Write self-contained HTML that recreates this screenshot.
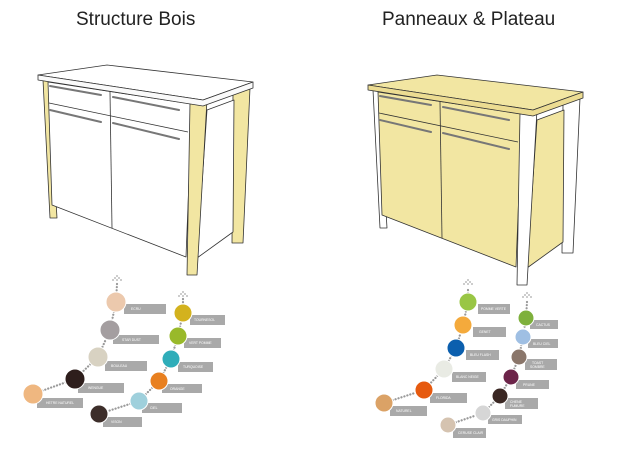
<!DOCTYPE html>
<html><head><meta charset="utf-8"><style>
html,body{margin:0;padding:0;background:#fff;}
svg{display:block;font-family:"Liberation Sans",sans-serif;}
.lb{fill:#a9a9a9;}
.lt{fill:#fff;font-size:3.4px;}
.dot{stroke:#999;stroke-width:2.2;stroke-dasharray:0.1 3;stroke-linecap:round;fill:none;}
.ar{fill:#aaa;}
</style></head><body>
<svg width="617" height="449" viewBox="0 0 617 449" xmlns="http://www.w3.org/2000/svg">
<text x="76" y="25" font-size="19" fill="#222">Structure Bois</text>
<text x="382" y="25" font-size="19" fill="#222">Panneaux &amp; Plateau</text>

<!-- Left cabinet -->
<g stroke="#333" stroke-width="0.8" stroke-linejoin="round">
  <polygon points="233,92 250,88 243,243 232,243" fill="#f2e6a2"/>
  <polygon points="207,110 234,100 233,232 197,258" fill="#fff"/>
  <polygon points="43,80 49,80 57,218 50,218" fill="#f2e6a2"/>
  <polygon points="48,82 192,104 186,257 52,205" fill="#fff"/>
  <line x1="110" y1="92" x2="112" y2="228"/>
  <line x1="49" y1="103" x2="188" y2="132"/>
  <polygon points="190,103 207,100 197,275 187,275" fill="#f2e6a2"/>
  <polygon points="38,75 107,65 253,82 203,100" fill="#fff"/>
  <polygon points="38,75 203,100 253,82 253,88 203,106 38,80" fill="#fafafa"/>
</g>
<g stroke="#777" stroke-width="2" stroke-linecap="round">
  <line x1="50" y1="86" x2="101" y2="95"/>
  <line x1="50" y1="110" x2="101" y2="122"/>
  <line x1="113" y1="97" x2="179" y2="110"/>
  <line x1="113" y1="123" x2="179" y2="139"/>
</g>

<!-- Right cabinet -->
<g transform="translate(330,10)" stroke="#333" stroke-width="0.8" stroke-linejoin="round">
  <polygon points="233,92 250,88 243,243 232,243" fill="#fff"/>
  <polygon points="207,110 234,100 233,232 197,258" fill="#f2e6a2"/>
  <polygon points="43,80 49,80 57,218 50,218" fill="#fff"/>
  <polygon points="48,82 192,104 186,257 52,205" fill="#f2e6a2"/>
  <line x1="110" y1="92" x2="112" y2="228"/>
  <line x1="49" y1="103" x2="188" y2="132"/>
  <polygon points="190,103 207,100 197,275 187,275" fill="#fff"/>
  <polygon points="38,75 107,65 253,82 203,100" fill="#f2e6a2"/>
  <polygon points="38,75 203,100 253,82 253,88 203,106 38,80" fill="#ecdc92"/>
</g>
<g transform="translate(330,10)" stroke="#777" stroke-width="2" stroke-linecap="round">
  <line x1="50" y1="86" x2="101" y2="95"/>
  <line x1="50" y1="110" x2="101" y2="122"/>
  <line x1="113" y1="97" x2="179" y2="110"/>
  <line x1="113" y1="123" x2="179" y2="139"/>
</g>

<!-- Left swatches -->
<polyline class="dot" points="117,284 116,302 110,330 98,357 75,379 33,394"/>
<polyline class="dot" points="183,299 183,313 178,336 171,359 159,381 139,401 99,414"/>
<g class="ar">
<circle cx="117" cy="276" r="0.9"/><circle cx="115" cy="278" r="0.9"/><circle cx="119" cy="278" r="0.9"/><circle cx="113" cy="280" r="0.9"/><circle cx="117" cy="280" r="0.9"/><circle cx="121" cy="280" r="0.9"/>
<circle cx="183" cy="292" r="0.9"/><circle cx="181" cy="294" r="0.9"/><circle cx="185" cy="294" r="0.9"/><circle cx="179" cy="296" r="0.9"/><circle cx="183" cy="296" r="0.9"/><circle cx="187" cy="296" r="0.9"/>
<circle cx="468" cy="280" r="0.9"/><circle cx="466" cy="282" r="0.9"/><circle cx="470" cy="282" r="0.9"/><circle cx="464" cy="284" r="0.9"/><circle cx="468" cy="284" r="0.9"/><circle cx="472" cy="284" r="0.9"/>
<circle cx="527" cy="293" r="0.9"/><circle cx="525" cy="295" r="0.9"/><circle cx="529" cy="295" r="0.9"/><circle cx="523" cy="297" r="0.9"/><circle cx="527" cy="297" r="0.9"/><circle cx="531" cy="297" r="0.9"/>
</g>
<g>
<rect class="lb" x="124" y="304" width="42" height="10"/><text class="lt" x="131" y="310">ECRU</text>
<rect class="lb" x="113" y="335" width="46" height="9"/><text class="lt" x="122" y="341">STAR DUST</text>
<rect class="lb" x="105" y="361" width="42" height="10"/><text class="lt" x="111" y="367">BOULEAU</text>
<rect class="lb" x="78" y="383" width="46" height="10"/><text class="lt" x="88" y="389">WENGUE</text>
<rect class="lb" x="37" y="398" width="46" height="10"/><text class="lt" x="46" y="404">HETRE NATUREL</text>
<rect class="lb" x="190" y="315" width="35" height="10"/><text class="lt" x="194" y="321">TOURNESOL</text>
<rect class="lb" x="184" y="338" width="37" height="10"/><text class="lt" x="189" y="344">VERT POMME</text>
<rect class="lb" x="178" y="362" width="35" height="10"/><text class="lt" x="183" y="368">TURQUOISE</text>
<rect class="lb" x="162" y="384" width="40" height="9"/><text class="lt" x="170" y="390">ORANGE</text>
<rect class="lb" x="142" y="403" width="40" height="10"/><text class="lt" x="150" y="409">CIEL</text>
<rect class="lb" x="103" y="417" width="39" height="10"/><text class="lt" x="111" y="423">VISON</text>
</g>
<g stroke="#fff" stroke-width="1">
<circle cx="116" cy="302" r="10" fill="#ecc9ad"/>
<circle cx="110" cy="330" r="10" fill="#a49ea0"/>
<circle cx="98" cy="357" r="10" fill="#d8d2c2"/>
<circle cx="75" cy="379" r="10" fill="#2e1e1c"/>
<circle cx="33" cy="394" r="10" fill="#efb780"/>
<circle cx="183" cy="313" r="9" fill="#d3b21e"/>
<circle cx="178" cy="336" r="9" fill="#99b92a"/>
<circle cx="171" cy="359" r="9" fill="#2fadb9"/>
<circle cx="159" cy="381" r="9" fill="#e88020"/>
<circle cx="139" cy="401" r="9" fill="#9fd0dc"/>
<circle cx="99" cy="414" r="9" fill="#3d2e2a"/>
</g>

<!-- Right swatches -->
<polyline class="dot" points="468,290 468,302 463,325 456,348 444,369 424,390 384,403"/>
<polyline class="dot" points="527,302 526,318 523,337 519,357 511,377 500,396 483,413 448,425"/>
<g>
<rect class="lb" x="478" y="304" width="32" height="10"/><text class="lt" x="481" y="310">POMME VERTE</text>
<rect class="lb" x="473" y="327" width="33" height="10"/><text class="lt" x="479" y="333">GENET</text>
<rect class="lb" x="466" y="350" width="33" height="10"/><text class="lt" x="470" y="356">BLEU FLASH</text>
<rect class="lb" x="452" y="372" width="34" height="10"/><text class="lt" x="456" y="378">BLANC NEIGE</text>
<rect class="lb" x="430" y="393" width="37" height="10"/><text class="lt" x="436" y="399">FLORIDA</text>
<rect class="lb" x="390" y="406" width="37" height="10"/><text class="lt" x="396" y="412">NATUREL</text>
<rect class="lb" x="530" y="320" width="28" height="9"/><text class="lt" x="536" y="326">CACTUS</text>
<rect class="lb" x="528" y="339" width="30" height="9"/><text class="lt" x="533" y="345">BLEU CIEL</text>
<rect class="lb" x="525" y="359" width="32" height="11"/><text class="lt" x="532" y="364">TOAST</text><text class="lt" x="530" y="368">SOMBRE</text>
<rect class="lb" x="516" y="380" width="33" height="9"/><text class="lt" x="523" y="386">PRUNE</text>
<rect class="lb" x="505" y="398" width="33" height="11"/><text class="lt" x="510" y="403">CHENE</text><text class="lt" x="510" y="407">FUMURE</text>
<rect class="lb" x="488" y="415" width="34" height="9"/><text class="lt" x="492" y="421">GRIS DAUPHIN</text>
<rect class="lb" x="453" y="428" width="33" height="10"/><text class="lt" x="458" y="434">CERUSE CLAIR</text>
</g>
<g stroke="#fff" stroke-width="1">
<circle cx="468" cy="302" r="9" fill="#99c645"/>
<circle cx="463" cy="325" r="9" fill="#f4aa3c"/>
<circle cx="456" cy="348" r="9" fill="#0b5fae"/>
<circle cx="444" cy="369" r="9" fill="#e9ebe4"/>
<circle cx="424" cy="390" r="9" fill="#e65a0f"/>
<circle cx="384" cy="403" r="9" fill="#dba266"/>
<circle cx="526" cy="318" r="8" fill="#7eb03c"/>
<circle cx="523" cy="337" r="8" fill="#9fbfe3"/>
<circle cx="519" cy="357" r="8" fill="#8a766a"/>
<circle cx="511" cy="377" r="8" fill="#6c2449"/>
<circle cx="500" cy="396" r="8" fill="#3a2723"/>
<circle cx="483" cy="413" r="8" fill="#d6d6d6"/>
<circle cx="448" cy="425" r="8" fill="#d5c3b0"/>
</g>
</svg>
</body></html>
